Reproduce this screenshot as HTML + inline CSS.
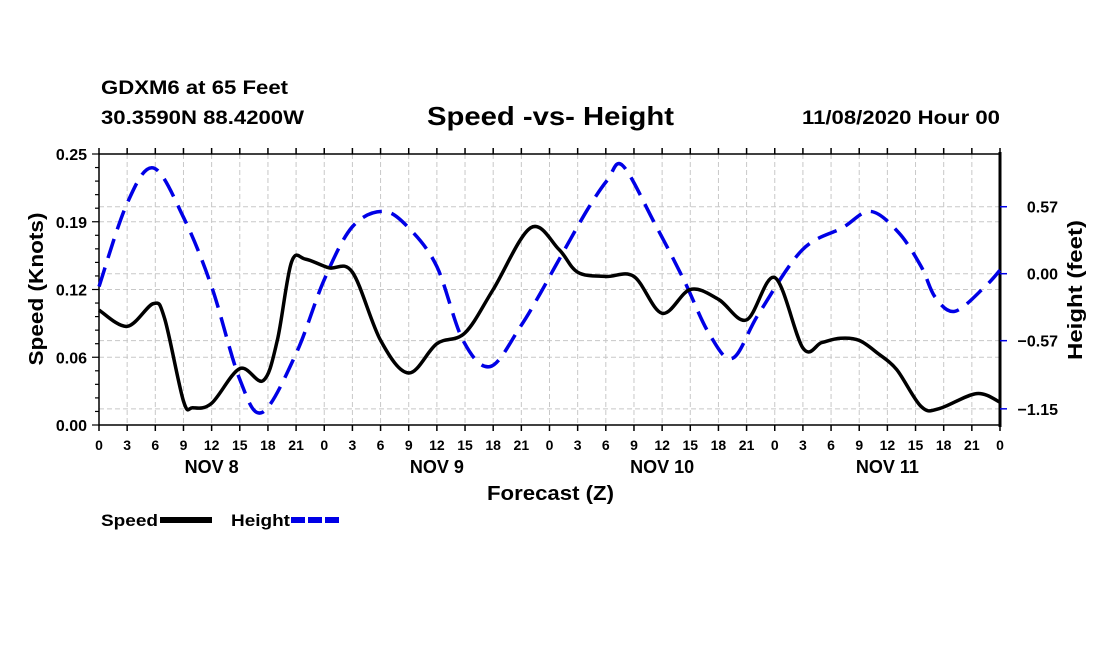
<!DOCTYPE html>
<html><head><meta charset="utf-8"><style>
html,body{margin:0;padding:0;background:#fff;}
svg{display:block;font-family:"Liberation Sans",Arial,sans-serif;font-weight:bold;}
</style></head><body>
<svg id="chart" width="1100" height="650" viewBox="0 0 1100 650" xmlns="http://www.w3.org/2000/svg">
<text x="101" y="94" font-size="19" textLength="187" lengthAdjust="spacingAndGlyphs">GDXM6 at 65 Feet</text>
<text x="101" y="124" font-size="19" textLength="203" lengthAdjust="spacingAndGlyphs">30.3590N 88.4200W</text>
<text x="427" y="125" font-size="26" textLength="247" lengthAdjust="spacingAndGlyphs">Speed -vs- Height</text>
<text x="802" y="124" font-size="19" textLength="198" lengthAdjust="spacingAndGlyphs">11/08/2020 Hour 00</text>
<g id="grid"></g>
<g id="axes"></g>
<g id="series"></g>
<text transform="translate(43,289) rotate(-90)" font-size="20" text-anchor="middle" textLength="153" lengthAdjust="spacingAndGlyphs">Speed (Knots)</text>
<text transform="translate(1082,290) rotate(-90)" font-size="20" text-anchor="middle" textLength="140" lengthAdjust="spacingAndGlyphs">Height (feet)</text>
<text x="487" y="500" font-size="20" textLength="127" lengthAdjust="spacingAndGlyphs">Forecast (Z)</text>
<g>
<text x="101" y="526" font-size="17" textLength="57" lengthAdjust="spacingAndGlyphs">Speed</text>
<line x1="160" y1="520" x2="212" y2="520" stroke="#000" stroke-width="6"/>
<text x="231" y="526" font-size="17" textLength="59" lengthAdjust="spacingAndGlyphs">Height</text>
<line x1="291" y1="520" x2="342" y2="520" stroke="#0000e6" stroke-width="6" stroke-dasharray="14,3"/>
</g>
</svg>
<script>
const xTickLabels=["0","3","6","9","12","15","18","21"];
const dayLabels=["NOV 8","NOV 9","NOV 10","NOV 11"];
const speedTicks=[0,0.0625,0.125,0.1875,0.25];
const speedTickLabels=["0.00","0.06","0.12","0.19","0.25"];
const heightTicks=[0.57,0,-0.57,-1.15];
const heightTickLabels=["0.57","0.00","\u22120.57","\u22121.15"];
const speedHours=[0,3,5.8,7,9,10,12,15,17.5,19,20.5,22,24.5,27,30,33,36,39,42,46,49,51,54,57,60,63,66,69,72,75,77,79,81,83,85,87.6,89.5,93.5,96];
const speedValues=[0.106,0.091,0.112,0.098,0.022,0.016,0.020,0.052,0.041,0.078,0.150,0.153,0.145,0.141,0.078,0.048,0.075,0.085,0.125,0.182,0.162,0.141,0.137,0.137,0.103,0.125,0.116,0.097,0.136,0.071,0.076,0.080,0.078,0.066,0.051,0.017,0.015,0.029,0.021];
const heightHours=[0,3,5.8,9,12,15,17.4,21,24,27,30.3,33,36,38.8,41.7,44.9,47,48.6,52,54.2,55.8,59.2,62.3,65,67.5,70.3,74.9,79.2,82.2,85.2,87.6,89.1,91.2,94.4,96];
const heightValues=[-0.11,0.60,0.90,0.48,-0.11,-0.90,-1.18,-0.68,-0.05,0.40,0.53,0.39,0.06,-0.57,-0.79,-0.45,-0.17,0.06,0.54,0.80,0.92,0.43,-0.05,-0.51,-0.72,-0.34,0.20,0.39,0.53,0.35,0.06,-0.2,-0.32,-0.11,0.03];

const NS="http://www.w3.org/2000/svg";
const L=99,R=1000,T=154,B=425;
const xS=h=>L+h*(R-L)/96;
const yS=v=>B-v*(B-T)/0.25;
const yH=v=>273.7-v*117.5;
function mk(parent,tag,attrs){const e=document.createElementNS(NS,tag);for(const k in attrs)e.setAttribute(k,attrs[k]);document.getElementById(parent).appendChild(e);return e;}
for(let i=1;i<32;i++){
  const g=mk('grid','line',{x1:xS(i*3),x2:xS(i*3),y1:T,y2:B,stroke:'#c8c8c8','stroke-width':1,'stroke-dasharray':'5,3'});
  
  
}
speedTicks.slice(1,4).forEach(v=>{
  const g=mk('grid','line',{x1:L,x2:R,y1:yS(v),y2:yS(v),stroke:'#c8c8c8','stroke-width':1,'stroke-dasharray':'5,3'});
  
  
});
heightTicks.forEach(v=>{
  const g=mk('grid','line',{x1:L,x2:R,y1:yH(v),y2:yH(v),stroke:'#c8c8c8','stroke-width':1,'stroke-dasharray':'5,3'});
  
  
});
const fr=mk('axes','rect',{x:L,y:T,width:R-L,height:B-T,fill:'none',stroke:'#000','stroke-width':1.5});


const ra=mk('axes','line',{x1:R,x2:R,y1:T-2,y2:B+2,stroke:'#000','stroke-width':3});


for(let i=0;i<=32;i++){
  const x=xS(i*3);
  const t1=mk('axes','line',{x1:x,x2:x,y1:B,y2:B+6,stroke:'#000','stroke-width':1.5});
  
  
  const t2=mk('axes','line',{x1:x,x2:x,y1:T,y2:T-6,stroke:'#000','stroke-width':1.5});
  
  
  const tl=mk('axes','text',{x:x,y:450,'font-size':14,'text-anchor':'middle'});
  tl.textContent=xTickLabels[i%8];
  
  
}
dayLabels.forEach((d,i)=>{
  const t=mk('axes','text',{x:xS(12+24*i),y:473,'font-size':18,'text-anchor':'middle'});
  t.textContent=d;
  
  
});
for(let i=0;i<=20;i++){
  const y=yS(i*0.0125);
  const t=mk('axes','line',{x1:L,x2:L-(i%5==0?7:4),y1:y,y2:y,stroke:'#000','stroke-width':1.2});
  
  
}
speedTicks.forEach((v,i)=>{
  const t=mk('axes','text',{x:L-12,y:yS(v)+6,'font-size':16,'text-anchor':'end'});
  t.textContent=speedTickLabels[i];
  
  
});
heightTicks.forEach((v,i)=>{
  const t=mk('axes','line',{x1:R,x2:R+7,y1:yH(v),y2:yH(v),stroke:'#0000e6','stroke-width':1.5});
  
  
  const l=mk('axes','text',{x:1058,y:yH(v)+6,'font-size':16,'text-anchor':'end'});
  l.textContent=heightTickLabels[i];
  
  
});
function smooth(xs,ys){
  const p=xs.map((x,i)=>[x,ys[i]]);
  let d='M'+p[0][0].toFixed(1)+','+p[0][1].toFixed(1);
  for(let i=0;i<p.length-1;i++){
    const p0=p[Math.max(0,i-1)],p1=p[i],p2=p[i+1],p3=p[Math.min(p.length-1,i+2)];
    const c1=[p1[0]+(p2[0]-p0[0])/6,p1[1]+(p2[1]-p0[1])/6];
    const c2=[p2[0]-(p3[0]-p1[0])/6,p2[1]-(p3[1]-p1[1])/6];
    d+='C'+c1.map(v=>v.toFixed(1)).join(',')+' '+c2.map(v=>v.toFixed(1)).join(',')+' '+p2[0].toFixed(1)+','+p2[1].toFixed(1);
  }
  return d;
}
const hp=mk('series','path',{d:smooth(heightHours.map(xS),heightValues.map(yH)),fill:'none',stroke:'#0000e6','stroke-width':3.5,'stroke-dasharray':'20,10'});


const sp=mk('series','path',{d:smooth(speedHours.map(xS),speedValues.map(yS)),fill:'none',stroke:'#000','stroke-width':3.5,'stroke-linejoin':'round'});


</script>
</body></html>
